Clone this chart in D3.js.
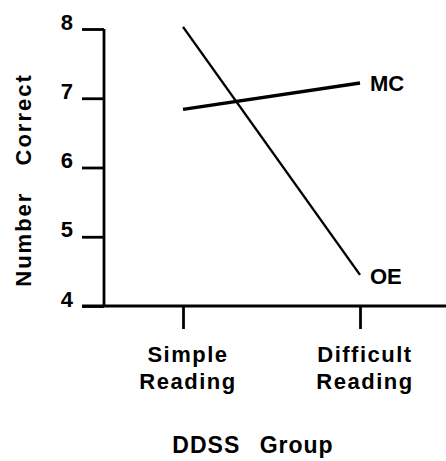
<!DOCTYPE html>
<html>
<head>
<meta charset="utf-8">
<script src="https://cdn.jsdelivr.net/npm/d3@7"></script>
<style>
  body { margin: 0; background: #fff; }
  text { font-family: "Liberation Sans", Arial, sans-serif; font-weight: bold; fill: #000; }
</style>
</head>
<body>
<div id="chart"></div>
<script>
// data
const groups = ["Simple Reading", "Difficult Reading"];
const groupLines = [["Simple", "Reading"], ["Difficult", "Reading"]];
const mcValues = [6.84, 7.22];
const oeValues = [8.03, 4.45];
const yTicks = [4, 5, 6, 7, 8];

const width = 446;
const height = 461;

const svg = d3.select("#chart")
    .append("svg")
    .attr("width", width)
    .attr("height", height);

// scales
const x = d3.scalePoint()
    .domain(groups)
    .range([183, 360]);

const y = d3.scaleLinear()
    .domain([4, 8])
    .range([306, 29]);

const axisX = 104;   // where the y axis sits
const axisY = y(4);  // where the x axis sits

// y axis ticks + labels
const yAxis = svg.append("g")
    .attr("transform", "translate(" + axisX + ",0)")
    .call(d3.axisLeft(y).tickValues(yTicks).tickSize(22).tickPadding(9).tickFormat(d3.format("d")));

yAxis.select(".domain").remove();
yAxis.selectAll(".tick line").attr("stroke", "#000").attr("stroke-width", 2.8);
yAxis.selectAll(".tick text")
    .attr("dy", "0")
    .style("font-size", "22px")
    .style("font-family", "'Liberation Sans', Arial, sans-serif")
    .style("font-weight", "bold");

// x axis ticks
const xAxis = svg.append("g")
    .attr("transform", "translate(0," + axisY + ")")
    .call(d3.axisBottom(x).tickSize(23).tickFormat(""));
xAxis.select(".domain").remove();
xAxis.selectAll(".tick line").attr("stroke", "#000").attr("stroke-width", 2.8);

// axis lines
svg.append("line")
    .attr("x1", axisX).attr("x2", axisX)
    .attr("y1", y(8)).attr("y2", axisY)
    .attr("stroke", "#000").attr("stroke-width", 2.8);

svg.append("line")
    .attr("x1", 82).attr("x2", width)
    .attr("y1", axisY).attr("y2", axisY)
    .attr("stroke", "#000").attr("stroke-width", 3);

// category labels, two lines each
groups.forEach(function(g, i) {
  const t = svg.append("text")
      .attr("text-anchor", "middle")
      .style("font-size", "22px")
      .style("letter-spacing", "1.5px");
  groupLines[i].forEach(function(s, j) {
    t.append("tspan")
      .attr("x", x(g) + 5)
      .attr("y", 362 + j * 27)
      .text(s);
  });
});

// lines
const line = d3.line()
    .x(function(d, i) { return x(groups[i]); })
    .y(function(d) { return y(d); });

svg.append("path")
    .datum(oeValues)
    .attr("d", line)
    .attr("fill", "none")
    .attr("stroke", "#000")
    .attr("stroke-width", 2.4);

svg.append("path")
    .datum(mcValues)
    .attr("d", line)
    .attr("fill", "none")
    .attr("stroke", "#000")
    .attr("stroke-width", 3.4);

// series labels
svg.append("text")
    .attr("x", x(groups[1]) + 10)
    .attr("y", y(mcValues[1]) + 8)
    .style("font-size", "22px")
    .text("MC");

svg.append("text")
    .attr("x", x(groups[1]) + 10)
    .attr("y", y(oeValues[1]) + 9)
    .style("font-size", "22px")
    .text("OE");

// axis titles
svg.append("text")
    .attr("transform", "translate(31,180) rotate(-90)")
    .attr("text-anchor", "middle")
    .style("font-size", "22px")
    .style("letter-spacing", "2px")
    .style("word-spacing", "18px")
    .text("Number Correct");

svg.append("text")
    .attr("x", 253)
    .attr("y", 453)
    .attr("text-anchor", "middle")
    .style("font-size", "23px")
    .style("letter-spacing", "1px")
    .style("word-spacing", "12px")
    .text("DDSS Group");
</script>
</body>
</html>
